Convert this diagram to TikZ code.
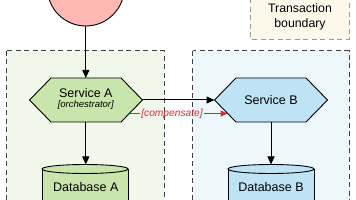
\documentclass[tikz,border=0pt]{standalone}
\usepackage{fontspec}
\setmainfont{Liberation Sans}
\usetikzlibrary{arrows.meta}
\definecolor{circfill}{HTML}{FFB8B3}
\definecolor{hexgreen}{HTML}{CAE5AB}
\definecolor{hexblue}{HTML}{BEE3F5}
\definecolor{bggreen}{HTML}{F1F8EB}
\definecolor{bgblue}{HTML}{EEF7FC}
\definecolor{bglegend}{HTML}{FDF9EA}
\definecolor{redline}{HTML}{D22B3B}
\tikzset{
  region/.style={draw=black!75, dashed, dash pattern=on 5pt off 3.5pt, line width=0.9pt},
  legendbox/.style={draw=black!40, dashed, dash pattern=on 5pt off 3.5pt, line width=0.9pt, fill=bglegend},
  shapeline/.style={draw=black, line width=0.9pt},
  conn/.style={draw=black, line width=1pt, -{Triangle[length=8pt,width=7pt]}},
  redconn/.style={draw=redline, line width=1.2pt},
  maintext/.style={font=\fontsize{12.5}{14}\selectfont, inner sep=0pt},
  subtext/.style={font=\fontsize{9.5}{11}\selectfont\itshape, inner sep=0pt},
}
\begin{document}
\begin{tikzpicture}[x=1pt,y=-1pt]
\useasboundingbox (0,0) rectangle (356,200);
% regions
\path[region, fill=bggreen] (6.7,50.7) rectangle (164,215);
\path[region, fill=bgblue] (192.7,50.7) rectangle (349,215);
\path[legendbox] (250,-10) rectangle (349,39);
\node[align=center, font=\fontsize{12.3}{14.8}\selectfont, inner sep=0pt] (legend) at (300,16.5) {Transaction\\boundary};
% start circle
\path[shapeline, fill=circfill] (85.8,-12.5) circle (38.5);
\coordinate (start) at (85.8,26);
% Service A hexagon
\path[shapeline, fill=hexgreen] (29.5,100) -- (51,78) -- (121,78) -- (142.5,100) -- (121,122) -- (51,122) -- cycle;
\coordinate (aTop) at (85.8,78);
\coordinate (aBot) at (85.8,122);
\coordinate (aRight) at (142.5,100);
\coordinate (aComp) at (129.5,113.5);
\node[maintext, anchor=base] (svcA) at (85.8,98) {Service A};
\node[subtext, anchor=base] (orch) at (85.8,108) {[orchestrator]};
% Service B hexagon
\path[shapeline, fill=hexblue] (214.5,100) -- (236,78) -- (306,78) -- (327.5,100) -- (306,122) -- (236,122) -- cycle;
\coordinate (bLeft) at (214.5,100);
\coordinate (bBot) at (271,122);
\coordinate (bComp) at (227.5,113.5);
\node[maintext, anchor=base] (svcB) at (271,104.5) {Service B};
% Database A
\path[shapeline, fill=hexgreen] (42,169) -- (42,215) -- (128,215) -- (128,169);
\path[shapeline, fill=hexgreen] (85,169) ellipse (43 and 4.5);
\coordinate (dbATop) at (85.8,164.5);
\node[maintext, anchor=base] (dbA) at (85.8,191.5) {Database A};
% Database B
\path[shapeline, fill=hexblue] (228,169) -- (228,215) -- (314,215) -- (314,169);
\path[shapeline, fill=hexblue] (271,169) ellipse (43 and 4.5);
\coordinate (dbBTop) at (271,164.5);
\node[maintext, anchor=base] (dbB) at (271,191.5) {Database B};
% connectors
\draw[conn] (start) -- (aTop);
\draw[conn] (aRight) -- (bLeft);
\draw[conn] (aBot) -- (dbATop);
\draw[conn] (bBot) -- (dbBTop);
% compensate
\node[font=\fontsize{10.2}{12}\selectfont\itshape, text=redline, inner sep=1pt, anchor=base] (comp) at (172,117) {[compensate]};
\draw[redconn] (aComp) -- (aComp -| comp.west);
\draw[redconn, -{Triangle[length=7pt,width=6pt]}] (bComp -| comp.east) -- (bComp);
\end{tikzpicture}
\end{document}
